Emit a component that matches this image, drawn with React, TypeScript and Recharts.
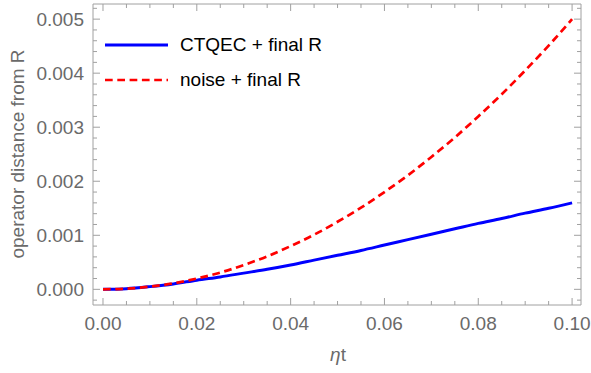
import React from 'react'
import { LineChart, Line, XAxis, YAxis, Legend } from 'recharts'

// eta*t grid and the two curves
const etaT = [0, 0.005, 0.01, 0.015, 0.02, 0.025, 0.03, 0.035, 0.04, 0.045, 0.05, 0.055, 0.06, 0.065, 0.07, 0.075, 0.08, 0.085, 0.09, 0.095, 0.1]
const ctqec = [0, 0.000012, 0.00005, 0.0001, 0.00017, 0.00023, 0.0003, 0.00037, 0.00045, 0.00054, 0.00063, 0.00072, 0.00082, 0.00092, 0.00102, 0.00112, 0.00122, 0.00131, 0.00141, 0.0015, 0.0016]
const noise = [0, 0.0000125, 0.00005, 0.00011, 0.0002, 0.00031, 0.00045, 0.00061, 0.0008, 0.00101, 0.00125, 0.00151, 0.0018, 0.00211, 0.00245, 0.00281, 0.0032, 0.00361, 0.00405, 0.00451, 0.005]

const xTicks = [0, 0.005, 0.01, 0.015, 0.02, 0.025, 0.03, 0.035, 0.04, 0.045, 0.05, 0.055, 0.06, 0.065, 0.07, 0.075, 0.08, 0.085, 0.09, 0.095, 0.1]
const yTicks = [-0.0002, 0, 0.0002, 0.0004, 0.0006, 0.0008, 0.001, 0.0012, 0.0014, 0.0016, 0.0018, 0.002, 0.0022, 0.0024, 0.0026, 0.0028, 0.003, 0.0032, 0.0034, 0.0036, 0.0038, 0.004, 0.0042, 0.0044, 0.0046, 0.0048, 0.005, 0.0052]

const data = etaT.map((t, i) => ({ t, ctqec: ctqec[i], noise: noise[i] }))

const FRAME = '#a0a0a0'
const LABEL = '#6a6a6a'
const FONT = '"Liberation Sans", Arial, sans-serif'

const isMajor = (v: number, step: number) => Math.abs(v / step - Math.round(v / step)) < 1e-6

const makeXTick = (side: 'bottom' | 'top') => (props: any) => {
  const { x, y, payload } = props
  const major = isMajor(payload.value, 0.02)
  const len = major ? 7 : 4
  const dir = side === 'bottom' ? -1 : 1
  return (
    <g>
      <line x1={x} x2={x} y1={y} y2={y + dir * len} stroke={FRAME} strokeWidth={1} />
      {side === 'bottom' && major && (
        <text x={x} y={y + 25} textAnchor="middle" fill={LABEL} fontSize={19} fontFamily={FONT}>
          {payload.value.toFixed(2)}
        </text>
      )}
    </g>
  )
}

const makeYTick = (side: 'left' | 'right') => (props: any) => {
  const { x, y, payload } = props
  const major = isMajor(payload.value, 0.001)
  const len = major ? 7 : 4
  const dir = side === 'left' ? 1 : -1
  return (
    <g>
      <line x1={x} x2={x + dir * len} y1={y} y2={y} stroke={FRAME} strokeWidth={1} />
      {side === 'left' && major && (
        <text x={x - 9} y={y + 7} textAnchor="end" fill={LABEL} fontSize={19} fontFamily={FONT}>
          {payload.value.toFixed(3)}
        </text>
      )}
    </g>
  )
}

const renderLegend = () => (
  <div style={{ fontFamily: FONT, fontSize: 19, color: '#000' }}>
    <div style={{ display: 'flex', alignItems: 'center', height: 35 }}>
      <svg width={75} height={10}>
        <line x1={0} x2={63} y1={5} y2={5} stroke="#0000ff" strokeWidth={3} />
      </svg>
      <span>CTQEC + final R</span>
    </div>
    <div style={{ display: 'flex', alignItems: 'center', height: 35 }}>
      <svg width={75} height={10}>
        <line x1={0} x2={63} y1={5} y2={5} stroke="#ff0000" strokeWidth={2.5} strokeDasharray="7.7 4.6" />
      </svg>
      <span>noise + final R</span>
    </div>
  </div>
)

export default function App() {
  const xDomain = [-0.00213, 0.1019]
  const yDomain = [-0.00029, 0.00528]
  return (
    <div style={{ position: 'absolute', left: 0, top: 0, width: 591, height: 373, background: '#fff' }}>
      <LineChart width={591} height={373} data={data} margin={{ top: 3, right: 9, bottom: 67, left: 92 }}>
        <XAxis
          xAxisId="b"
          dataKey="t"
          type="number"
          domain={xDomain}
          allowDataOverflow
          ticks={xTicks}
          interval={0}
          height={1}
          tickSize={0}
          tickMargin={0}
          stroke={FRAME}
          tick={makeXTick('bottom')}
          label={() => (
            <text x={338} y={361} textAnchor="middle" fill={LABEL} fontSize={19} fontFamily={FONT}>
              <tspan fontStyle="italic">η</tspan>t
            </text>
          )}
        />
        <XAxis
          xAxisId="t"
          orientation="top"
          dataKey="t"
          type="number"
          domain={xDomain}
          allowDataOverflow
          ticks={xTicks}
          interval={0}
          height={1}
          tickSize={0}
          tickMargin={0}
          stroke={FRAME}
          tick={makeXTick('top')}
        />
        <YAxis
          yAxisId="l"
          type="number"
          domain={yDomain}
          allowDataOverflow
          ticks={yTicks}
          interval={0}
          width={1}
          tickSize={0}
          tickMargin={0}
          stroke={FRAME}
          tick={makeYTick('left')}
          label={() => (
            <text
              x={0}
              y={0}
              transform="translate(24,154) rotate(-90)"
              textAnchor="middle"
              fill={LABEL}
              fontSize={19}
              fontFamily={FONT}
            >
              operator distance from R
            </text>
          )}
        />
        <YAxis
          yAxisId="r"
          orientation="right"
          type="number"
          domain={yDomain}
          allowDataOverflow
          ticks={yTicks}
          interval={0}
          width={1}
          tickSize={0}
          tickMargin={0}
          stroke={FRAME}
          tick={makeYTick('right')}
        />
        <Legend
          layout="vertical"
          align="center"
          verticalAlign="middle"
          content={renderLegend}
          wrapperStyle={{ left: 105, top: 27, width: 260 }}
        />
        <Line
          xAxisId="b"
          yAxisId="l"
          type="monotone"
          dataKey="ctqec"
          stroke="#0000ff"
          strokeWidth={3}
          dot={false}
          isAnimationActive={false}
        />
        <Line
          xAxisId="b"
          yAxisId="l"
          type="monotone"
          dataKey="noise"
          stroke="#ff0000"
          strokeWidth={2.7}
          strokeDasharray="7.7 4.6"
          dot={false}
          isAnimationActive={false}
        />
      </LineChart>
    </div>
  )
}
